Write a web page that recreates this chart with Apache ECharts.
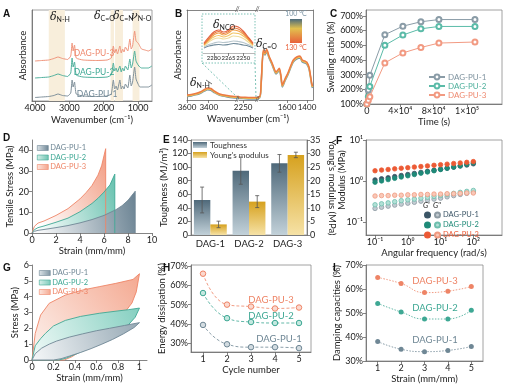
<!DOCTYPE html>
<html><head><meta charset="utf-8">
<script src="https://cdn.jsdelivr.net/npm/echarts@6.0.0/dist/echarts.min.js"></script>
<style>html,body{margin:0;padding:0;background:#fff}#c{width:509px;height:387px}</style>
</head><body><div id="c"></div>
<script>
// ---------- A: FTIR ----------
const wnA = [4000,3800,3600,3450,3330,3200,3050,2960,2920,2890,2850,2800,2600,2200,1900,1780,1720,1680,1640,1600,1530,1490,1450,1410,1370,1300,1240,1200,1160,1100,1060,1000,950,900,800,700,600];
const ftirPU3 = [40,40.5,41,42.5,44,42.5,41.5,45,58,50,56,43,41,40.5,41,43,55,48,52,47,55,48,52,49,54,50,62,52,55,70,60,58,55,52,51,50,52];
const ftirPU2 = [23,23.5,24,25.5,27,25.5,24.5,28,43,34,39,26,24,23.5,24,26,38,30,33,29,35,29,33,30,35,31,42,33,37,50,40,36,34,33,33,33,35];
const ftirPU1 = [3.5,4,4.5,5.5,7,5.5,5,8,21,14,19,7,5,4.5,5,7,21,12,15,11,21,12,15,12,17,13,26,15,19,34,22,17,14,14,14,14,16];
const ftirBands = [[3600,3130],[1800,1700],[1670,1440],[1160,960]];
const ftirTicks = [4000,3000,2000,1000];
// ---------- B: variable-temperature FTIR ----------
const wnB = [3600,3560,3520,3480,3440,3410,3380,3350,3300,3230,3150, 2290,2250,2200, 1877,1860,1837,1820,1803,1780,1753,1730,1710,1677,1660,1647,1620,1587,1560,1537,1503,1470,1447,1420,1403,1380,1353,1345];
const absB130 = [5,5.5,6.5,8,10.5,12,11.5,9,6,4.5,3.5, 3,2.8,2.5, 3.3,15,50,47,50.7,44,38,32,28,31.7,24,15,21,28,35,40,43,44,40,39,38,33,17,14];
const absB115 = [4.3,4.8,5.8,7.2,9.6,11.1,10.6,8.2,5.3,3.8,2.8, 2.3,2.1,1.8, 2.6,14,48.8,46,49.5,43,37,31,27,30.6,23,14,20,27,34,39,42,43,39,38,37,32,16,13];
const absB100 = [3.6,4.1,5.1,6.5,8.8,10.2,9.8,7.5,4.6,3.1,2.1, 1.6,1.4,1.1, 1.9,13,47.5,45,48.3,42,36,30,26,29.5,22,13,19,26,33,38,41,42,38,37,36,31,15,12];
const wnInset = [2290,2285,2280,2275,2270,2265,2260,2255,2250,2245,2240];
const inset130 = [10,16,21,23,21,23,27,26,22,16,10];
const inset125 = [9,14.5,19.5,21.5,19.5,21.5,25,24,20.5,15,9];
const inset120 = [8.5,13.5,18,20,18,20,23,22,19,14,8.5];
const inset115 = [8,12.5,16,17.5,16,17.5,20,19.5,17,13,8];
const inset110 = [7,11,14,15,14,15,17,16.5,14.5,11,7];
const inset105 = [6,8.5,10,11,10.5,11,12,11.5,10.5,8.5,6];
const inset100 = [5,7,8,8.5,8,8.5,9.5,9,8,7,5];
const insetTemps = ['100','105','110','115','120','125','130'];
// ---------- C: swelling ----------
const swellTime = [0,1800,3600,21600,43200,64800,86400,129600];
const swellPU1 = [100,195,295,572,630,660,675,675];
const swellPU2 = [100,150,220,500,570,612,628,628];
const swellPU3 = [100,125,150,380,448,485,515,522];
const swellTicks = [0,40000,80000,120000];
const swellTickText = ['0','4×10⁴','8×10⁴','1×10⁵'];
// ---------- D: tensile ----------
const strainD3 = [0,0.2,0.5,1,2,3,4,4.5,5,5.5,5.8,6.14,6.14];
const stressD3 = [0,3.2,4.8,5.8,8.5,11.8,16.5,19.5,23,28,32.5,40.8,0];
const strainD2 = [0,0.2,0.5,1,2,3,4,5,5.5,6,6.5,6.9,6.9];
const stressD2 = [0,1.6,2.6,3.4,5.2,7.2,10.3,14.3,16.8,19.8,23.3,28.5,0];
const strainD1 = [0,0.2,0.5,1,2,3,4,5,6,7,7.5,8,8.6,8.6];
const stressD1 = [0,0.8,1.3,1.7,2.6,3.6,4.9,6.5,8.5,11.3,13.2,15.8,20.2,0];
// ---------- E: toughness / modulus ----------
const toughCats = ['DAG-1','DAG-2','DAG-3'];
const toughness = [51.6,94.8,105.6];
const toughErr = [19,20,13];
const youngs = [3.9,12.3,29.5];
const youngErr = [1.2,2.2,1.0];
// ---------- F: rheology ----------
const freq = [0.1,0.158,0.251,0.398,0.631,1,1.585,2.512,3.981,6.31,10,15.85,25.12,39.81,63.1,100];
const gp1 = [1.08,1.15,1.22,1.30,1.38,1.46,1.55,1.64,1.74,1.85,1.96,2.08,2.20,2.34,2.48,2.65];
const gp2 = [0.95,1.02,1.10,1.18,1.27,1.36,1.46,1.57,1.68,1.80,1.93,2.07,2.22,2.38,2.58,2.80];
const gp3 = [1.80,1.87,1.93,2.00,2.07,2.14,2.21,2.28,2.36,2.44,2.52,2.60,2.69,2.78,2.88,3.00];
const gpp1 = [0.22,0.235,0.25,0.265,0.28,0.295,0.31,0.33,0.35,0.37,0.39,0.42,0.45,0.48,0.51,0.55];
const gpp2 = [0.27,0.285,0.30,0.32,0.34,0.355,0.37,0.39,0.41,0.43,0.455,0.48,0.51,0.54,0.57,0.60];
const gpp3 = [0.44,0.45,0.45,0.46,0.46,0.47,0.47,0.48,0.48,0.49,0.49,0.50,0.50,0.51,0.52,0.52];
const freqTicks = [0.1, 1, 10, 100];
const modTicks = [0.1, 1, 10];
// ---------- G: cyclic loops ----------
const loadStrainG3 = [0,0.03,0.08,0.16,0.31,0.47,0.625,0.78,0.94,1.0];
const loadStressG3 = [0,1.68,2.84,3.58,4.1,4.42,4.63,4.84,5.09,5.45];
const unloadStrainG3 = [1.0,0.97,0.93,0.85,0.75,0.65,0.55,0.45,0.37,0.3];
const unloadStressG3 = [5.45,4.3,3.6,2.9,2.2,1.6,1.05,0.55,0.2,0];
const loadStrainG2 = [0,0.03,0.08,0.125,0.2,0.31,0.45,0.625,0.8,0.9,1.0];
const loadStressG2 = [0,0.9,1.35,1.68,2.15,2.5,2.75,2.95,3.1,3.18,3.28];
const unloadStrainG2 = [1.0,0.96,0.9,0.8,0.7,0.6,0.5,0.4,0.32,0.25];
const unloadStressG2 = [3.28,2.7,2.25,1.75,1.35,1.0,0.65,0.35,0.12,0];
const loadStrainG1 = [0,0.03,0.09,0.16,0.23,0.35,0.47,0.6,0.72,0.86,1.0];
const loadStressG1 = [0,0.4,0.75,1.0,1.2,1.45,1.65,1.85,2.0,2.18,2.36];
const unloadStrainG1 = [1.0,0.95,0.85,0.75,0.65,0.55,0.45,0.35,0.27,0.2];
const unloadStressG1 = [2.36,2.05,1.65,1.3,1.0,0.72,0.47,0.25,0.08,0];
// ---------- H: energy dissipation ----------
const cycles = [1,2,3,4,5];
const dissPU3 = [66,50,49,48,48.5];
const dissPU2 = [56,43,41,40.5,40.5];
const dissPU1 = [39.5,29.5,28,28,27.5];
// ---------- I: damping ----------
const dampStrain = [1,2,3,4,5];
const dampPU3 = [64.8,62.3,58.5,59.1,61.0];
const dampPU2 = [54.0,50.4,47.5,47.5,51.1];
const dampPU1 = [38.1,34.9,33.9,34.4,36.0];

const zip = (xs, ys) => xs.map((x, i) => [x, ys[i]]);
const FF = 'Lato, "Open Sans", sans-serif';
const C1 = '#6f8795', C2 = '#3ea894', C3 = '#ee8466';
const plain = v => String(v);
const LBL = {fontSize: 9, color: '#222', margin: 3, fontFamily: FF, formatter: plain};
const NM = {fontSize: 9.5, color: '#222', fontFamily: FF};
const AL = {show: true, onZero: false, lineStyle: {color: '#666', width: 0.8}};
const TK = {show: true, length: 3, lineStyle: {color: '#666', width: 0.8}};
const BOX = {show: true, borderColor: '#8a8a8a', borderWidth: 0.8, backgroundColor: 'transparent'};
const NOSPLIT = {show: false};
const grad = (x, y, x2, y2, a, b) => new echarts.graphic.LinearGradient(x, y, x2, y2, [{offset: 0, color: a}, {offset: 1, color: b}]);
const supMap = {'-1': '⁻¹', '0': '⁰', '1': '¹', '2': '²'};
const logFmt = v => {
  const n = Number(v), l = Math.log10(n), r = Math.round(l);
  return Math.abs(l - r) < 1e-6 ? '10' + (supMap[String(r)] || '') : '';
};

function vx(grid, o) {
  return Object.assign({type: 'value', gridIndex: grid, axisLine: AL, axisTick: TK, axisLabel: LBL, splitLine: NOSPLIT, nameLocation: 'middle', nameTextStyle: NM}, o);
}
function cust(vals, extra) {
  return {axisLabel: Object.assign({}, LBL, {customValues: vals}, extra || {}), axisTick: Object.assign({}, TK, {customValues: vals})};
}

const grids = [
  Object.assign({left: 32, top: 10, width: 120, height: 91}, BOX),   // 0 A
  {left: 187, top: 10, width: 50, height: 90},                        // 1 B seg1
  {left: 239, top: 10, width: 18, height: 90},                        // 2 B seg2
  {left: 259, top: 10, width: 54, height: 90},                        // 3 B seg3
  {left: 203, top: 18, width: 52, height: 35},                        // 4 B inset
  Object.assign({left: 366, top: 10, width: 136, height: 94}, BOX),  // 5 C
  {left: 32, top: 140, width: 120, height: 93},                       // 6 D
  Object.assign({left: 191, top: 140, width: 116, height: 95}, BOX), // 7 E
  Object.assign({left: 366, top: 140, width: 136, height: 95}, BOX), // 8 F
  {left: 32, top: 265, width: 115, height: 95},                       // 9 G
  Object.assign({left: 191, top: 265, width: 120, height: 87}, BOX), // 10 H
  Object.assign({left: 366, top: 265, width: 117, height: 96}, BOX)  // 11 I
];

const BL = {fontSize: 8};
const xAxes = [
  vx(0, Object.assign({min: 595, max: 4087, inverse: true, name: 'Wavenumber (cm⁻¹)', nameGap: 14}, cust(ftirTicks))),
  vx(1, Object.assign({min: 3140, max: 3600, inverse: true}, cust([3600, 3400], BL))),
  vx(2, Object.assign({min: 2150, max: 2280, inverse: true, name: 'Wavenumber (cm⁻¹)', nameGap: 14}, cust([2250], BL))),
  vx(3, Object.assign({min: 1340, max: 1880, inverse: true}, cust([1600, 1400], BL))),
  vx(1, {min: 3140, max: 3600, inverse: true, position: 'top', axisLabel: {show: false}, axisTick: {show: false}}),
  vx(2, {min: 2150, max: 2280, inverse: true, position: 'top', axisLabel: {show: false}, axisTick: {show: false}}),
  vx(3, {min: 1340, max: 1880, inverse: true, position: 'top', axisLabel: {show: false}, axisTick: {show: false}}),
  vx(4, Object.assign({min: 2238, max: 2291, inverse: true, axisLine: {show: true, lineStyle: {color: '#999', width: 0.7}}},
     cust([2280, 2265, 2250], {fontSize: 6, margin: 2}))),
  vx(5, Object.assign({min: -1000, max: 162000, name: 'Time (s)', nameGap: 12},
     cust(swellTicks, {formatter: v => swellTickText[swellTicks.indexOf(v)]}))),
  vx(6, Object.assign({min: 0, max: 10, name: 'Strain (mm/mm)', nameGap: 11}, cust([0, 2, 4, 6, 8, 10]))),
  {type: 'category', gridIndex: 7, data: toughCats, axisLine: AL, axisTick: {show: false}, axisLabel: {fontSize: 9.5, color: '#222', fontFamily: FF, margin: 4}},
  vx(8, Object.assign({type: 'log', min: 0.053, max: 750, name: 'Angular frequency (rad/s)', nameGap: 11},
     cust(freqTicks, {formatter: logFmt}))),
  vx(9, Object.assign({min: 0, max: 1.07, name: 'Strain (mm/mm)', nameGap: 13}, cust([0, 0.2, 0.4, 0.6, 0.8, 1]))),
  vx(10, Object.assign({min: 0.5, max: 5.5, name: 'Cycle number', nameGap: 12}, cust(cycles))),
  vx(11, Object.assign({min: 0.5, max: 5.5, name: 'Strain (mm/mm)', nameGap: 13}, cust(dampStrain)))
];

const pct = v => v + '%';
const yAxes = [
  vx(0, {min: 0, max: 91, axisLabel: {show: false}, axisTick: {show: false}, name: 'Absorbance', nameGap: 4}),
  vx(1, {min: 0, max: 90, axisLabel: {show: false}, axisTick: {show: false}, name: 'Absorbance', nameGap: 4}),
  vx(2, {min: 0, max: 90, show: false}),
  vx(3, {min: 0, max: 90, position: 'right', axisLabel: {show: false}, axisTick: {show: false}}),
  vx(4, {min: 0, max: 35, show: false}),
  vx(5, Object.assign({min: 100, max: 740, name: 'Swelling ratio (%)', nameGap: 25}, cust([100, 200, 300, 400, 500, 600, 700], {formatter: pct}))),
  vx(6, Object.assign({min: 0, max: 45, name: 'Tensile Stress (MPa)', nameGap: 14}, cust([0, 10, 20, 30, 40]))),
  vx(7, Object.assign({min: 0, max: 140, name: 'Toughness (MJ/m³)', nameGap: 19}, cust([0, 20, 40, 60, 80, 100, 120, 140]))),
  vx(7, Object.assign({min: 0, max: 35, position: 'right', name: "Young's modulus (MPa)", nameGap: 20, nameRotate: -90}, cust([0, 5, 10, 15, 20, 25, 30, 35]))),
  vx(8, {type: 'log', min: 0.05, max: 10,
     axisTick: Object.assign({}, TK, {customValues: modTicks}),
     axisLabel: Object.assign({}, LBL, {customValues: modTicks, formatter: logFmt, showMinLabel: true, showMaxLabel: true, hideOverlap: false})}),
  vx(9, Object.assign({min: 0, max: 6, name: 'Stress (MPa)', nameGap: 10}, cust([0, 1, 2, 3, 4, 5, 6]))),
  vx(10, Object.assign({min: 25.5, max: 70.5, name: 'Energy dissipation (%)', nameGap: 21}, cust([30, 40, 50, 60, 70], {formatter: pct}))),
  vx(11, Object.assign({min: 30, max: 70, name: 'Damping capacities (%)', nameGap: 24}, cust([30, 40, 50, 60, 70], {formatter: pct})))
];

const series = [];
// A
series.push({type: 'line', xAxisIndex: 0, yAxisIndex: 0, data: [], z: 1, silent: true,
  markArea: {silent: true, itemStyle: {color: '#f8eedb'}, data: ftirBands.map(b => [{xAxis: b[0]}, {xAxis: b[1]}])}});
[[ftirPU1, '#7f909a'], [ftirPU2, '#4fb09c'], [ftirPU3, '#f0957c']].forEach(s => {
  series.push({type: 'line', xAxisIndex: 0, yAxisIndex: 0, data: zip(wnA, s[0]), showSymbol: false, smooth: 0.15,
    lineStyle: {color: s[1], width: 1}, z: 3});
});
// B main
[[absB100, '#7895a5'], [absB115, '#f1c04f'], [absB130, '#ec7b45']].forEach(s => {
  [1, 2, 3].forEach(k => series.push({type: 'line', xAxisIndex: k, yAxisIndex: k, data: zip(wnB, s[0]), showSymbol: false,
    smooth: 0.25, lineStyle: {color: s[1], width: 1.5}}));
});
// B inset
const insetCols = ['#6f8a9a', '#b8c6cc', '#f0dc9c', '#f3c463', '#f0a048', '#ea7a3e', '#e2603c'];
[inset100, inset105, inset110, inset115, inset120, inset125, inset130].forEach((arr, i) => {
  series.push({type: 'line', name: insetTemps[i] + ' °C', xAxisIndex: 7, yAxisIndex: 4, data: zip(wnInset, arr), showSymbol: false,
    smooth: 0.4, lineStyle: {color: insetCols[i], width: 1.1}});
});
// C
[['C DAG-PU-1', swellPU1, '#8a9ca7'], ['C DAG-PU-2', swellPU2, '#5bbba8'], ['C DAG-PU-3', swellPU3, '#f29a82']].forEach(s => {
  series.push({type: 'line', name: s[0], xAxisIndex: 8, yAxisIndex: 5, data: zip(swellTime, s[1]), symbol: 'emptyCircle', symbolSize: 5,
    itemStyle: {color: s[2], borderWidth: 1}, lineStyle: {color: s[2], width: 1}});
});
// D
const dFill = {
  'D DAG-PU-3': ['#f3a38b', C3, strainD3, stressD3],
  'D DAG-PU-2': ['#6cc3b1', C2, strainD2, stressD2],
  'D DAG-PU-1': ['#6c8494', C1, strainD1, stressD1]
};
Object.keys(dFill).forEach(n => {
  const f = dFill[n];
  series.push({type: 'line', name: n, xAxisIndex: 9, yAxisIndex: 6, data: zip(f[2], f[3]), showSymbol: false,
    lineStyle: {color: f[1], width: 0.9}, itemStyle: {color: f[1]},
    areaStyle: {opacity: 1, color: grad(0, 0.7, 1, 0.2, '#ffffff', f[0])}});
});
// E
series.push({type: 'bar', name: 'Toughness', xAxisIndex: 10, yAxisIndex: 7, data: toughness, barGap: '0%', barCategoryGap: '15%',
  itemStyle: {color: grad(0, 0, 0, 1, '#4f697a', '#c2d1d9')}});
series.push({type: 'bar', name: "Young's modulus", xAxisIndex: 10, yAxisIndex: 8, data: youngs, barGap: '0%', barCategoryGap: '15%',
  itemStyle: {color: grad(0, 0, 0, 1, '#d6a11e', '#f6e2a6')}});
function errItem(sign) {
  return function (params, api) {
    const c = api.value(0), v = api.value(1), e = api.value(2);
    const hi = api.coord([c, v + e]), lo = api.coord([c, v - e]);
    const w = api.size([1, 0])[0];
    const x = hi[0] + sign * w * 0.2125, cap = 2;
    const st = {stroke: '#555', lineWidth: 0.8};
    return {type: 'group', children: [
      {type: 'line', shape: {x1: x, y1: hi[1], x2: x, y2: lo[1]}, style: st},
      {type: 'line', shape: {x1: x - cap, y1: hi[1], x2: x + cap, y2: hi[1]}, style: st},
      {type: 'line', shape: {x1: x - cap, y1: lo[1], x2: x + cap, y2: lo[1]}, style: st}]};
  };
}
series.push({type: 'custom', xAxisIndex: 10, yAxisIndex: 7, data: toughness.map((v, i) => [i, v, toughErr[i]]), encode: {x: 0, y: 1}, renderItem: errItem(-1), z: 5});
series.push({type: 'custom', xAxisIndex: 10, yAxisIndex: 8, data: youngs.map((v, i) => [i, v, youngErr[i]]), encode: {x: 0, y: 1}, renderItem: errItem(1), z: 5});
// F
[['F1 DAG-PU-1', gp1, '#3b5566', '#3b5566'], ['F1 DAG-PU-2', gp2, '#1f8a78', '#1f8a78'], ['F1 DAG-PU-3', gp3, '#ec5a35', '#ec5a35'],
 ['F2 DAG-PU-1', gpp1, '#c3ccd2', '#8e9ba3'], ['F2 DAG-PU-2', gpp2, '#b2e0d6', '#6fbfae'], ['F2 DAG-PU-3', gpp3, '#f9c8b8', '#f09a80']].forEach(s => {
  series.push({type: 'scatter', name: s[0], xAxisIndex: 11, yAxisIndex: 9, data: zip(freq, s[1]), symbolSize: 4.5,
    itemStyle: {color: s[2], borderColor: s[3], borderWidth: 0.8, opacity: 1}});
});
// G
function loopItem(pts, c0, c1, stroke) {
  return function (params, api) {
    if (params.dataIndex !== 0) return null;
    return {type: 'polygon', shape: {points: pts.map(p => api.coord(p))},
      style: {fill: grad(0, 1, 1, 0, c0, c1), stroke: stroke, lineWidth: 0.9}};
  };
}
[['G DAG-PU-3', loadStrainG3, loadStressG3, unloadStrainG3, unloadStressG3, '#fdf3ef', '#f4a890', C3],
 ['G DAG-PU-2', loadStrainG2, loadStressG2, unloadStrainG2, unloadStressG2, '#f1faf8', '#84cfc0', C2],
 ['G DAG-PU-1', loadStrainG1, loadStressG1, unloadStrainG1, unloadStressG1, '#f6f8f9', '#95a8b4', C1]].forEach(s => {
  const pts = zip(s[1], s[2]).concat(zip(s[3], s[4]));
  series.push({type: 'custom', name: s[0], xAxisIndex: 12, yAxisIndex: 10, data: pts, itemStyle: {color: s[7]}, renderItem: loopItem(pts, s[5], s[6], s[7])});
});
// H
[[dissPU3, C3, '#fbd9cf'], [dissPU2, C2, '#c4e8e0'], [dissPU1, C1, '#d3dce1']].forEach(s => {
  series.push({type: 'line', xAxisIndex: 13, yAxisIndex: 11, data: zip(cycles, s[0]), smooth: 0.5, symbol: 'circle', symbolSize: 5.5,
    itemStyle: {color: s[2], borderColor: s[1], borderWidth: 1}, lineStyle: {color: s[1], width: 1, type: [3, 2], opacity: 0.8}});
});
// I
[[dampPU3, C3], [dampPU2, C2], [dampPU1, C1]].forEach(s => {
  series.push({type: 'line', xAxisIndex: 14, yAxisIndex: 12, data: zip(dampStrain, s[0]), smooth: 0.5, symbol: 'circle', symbolSize: 5,
    itemStyle: {color: s[1]}, lineStyle: {color: s[1], width: 1, type: [1.5, 1.5], opacity: 0.8}});
});

const strip = n => n.slice(n.indexOf(' ') + 1);
const LEG = {selectedMode: false, padding: 0, orient: 'vertical'};
const legends = [
  Object.assign({left: 428, top: 73, itemGap: 1, itemWidth: 16, itemHeight: 6, formatter: strip,
    textStyle: {fontSize: 8, fontFamily: FF, padding: [0, 0, 0, -2]},
    data: [{name: 'C DAG-PU-1', textStyle: {color: '#7f939f'}}, {name: 'C DAG-PU-2', textStyle: {color: '#4fb09c'}}, {name: 'C DAG-PU-3', textStyle: {color: '#ee8a70'}}]}, LEG),
  Object.assign({left: 37, top: 144, itemGap: 1.5, itemWidth: 11, itemHeight: 5, formatter: strip,
    textStyle: {fontSize: 7.5, fontFamily: FF, padding: [0, 0, 0, -3]},
    data: [{name: 'D DAG-PU-1', icon: 'rect', itemStyle: {color: grad(0, 0, 1, 0, '#dde4e8', '#6c8494'), borderColor: C1, borderWidth: 0.6}, textStyle: {color: C1}},
           {name: 'D DAG-PU-2', icon: 'rect', itemStyle: {color: grad(0, 0, 1, 0, '#d8f0ea', '#6cc3b1'), borderColor: C2, borderWidth: 0.6}, textStyle: {color: C2}},
           {name: 'D DAG-PU-3', icon: 'rect', itemStyle: {color: grad(0, 0, 1, 0, '#fde6de', '#f3a38b'), borderColor: C3, borderWidth: 0.6}, textStyle: {color: C3}}]}, LEG),
  Object.assign({left: 193, top: 141, itemGap: 2, itemWidth: 14, itemHeight: 6,
    textStyle: {fontSize: 8, fontFamily: FF, color: '#333', padding: [0, 0, 0, -2]},
    data: [{name: 'Toughness', icon: 'rect'}, {name: "Young's modulus", icon: 'rect'}]}, LEG),
  Object.assign({left: 424, top: 211, itemGap: 2, itemWidth: 5, itemHeight: 5, formatter: () => ' ',
    textStyle: {fontSize: 7.5, fontFamily: FF},
    data: ['F1 DAG-PU-1', 'F1 DAG-PU-2', 'F1 DAG-PU-3']}, LEG),
  Object.assign({left: 434, top: 211, itemGap: 2, itemWidth: 5, itemHeight: 5, formatter: strip,
    textStyle: {fontSize: 7.5, fontFamily: FF, padding: [0, 0, 0, -2]},
    data: [{name: 'F2 DAG-PU-1', textStyle: {color: '#3b5566'}}, {name: 'F2 DAG-PU-2', textStyle: {color: '#1f8a78'}}, {name: 'F2 DAG-PU-3', textStyle: {color: '#ec5a35'}}]}, LEG),
  Object.assign({left: 39, top: 269, itemGap: 1.5, itemWidth: 11, itemHeight: 5, formatter: strip,
    textStyle: {fontSize: 7.5, fontFamily: FF, padding: [0, 0, 0, -3]},
    data: [{name: 'G DAG-PU-1', icon: 'rect', itemStyle: {color: grad(0, 0, 1, 0, '#dde4e8', '#7f95a3'), borderColor: C1, borderWidth: 0.6}, textStyle: {color: C1}},
           {name: 'G DAG-PU-2', icon: 'rect', itemStyle: {color: grad(0, 0, 1, 0, '#d8f0ea', '#7ccbbb'), borderColor: C2, borderWidth: 0.6}, textStyle: {color: C2}},
           {name: 'G DAG-PU-3', icon: 'rect', itemStyle: {color: grad(0, 0, 1, 0, '#fde6de', '#f4a890'), borderColor: C3, borderWidth: 0.6}, textStyle: {color: C3}}]}, LEG)
];

const T = (x, y, text, o) => ({type: 'text', x, y, z: 100, silent: true, style: Object.assign({text, fill: '#222', font: '9px ' + FF}, o || {})});
const letter = (x, y, t) => T(x, y, t, {font: 'bold 10px "Liberation Sans", Arial, sans-serif', fill: '#111'});
const richD = {d: {fontSize: 11, fontStyle: 'italic', fontFamily: 'DejaVu Serif, serif', fill: '#222'}, s: {fontSize: 7, fontFamily: FF, fill: '#222', padding: [5, 0, 0, 0]}};
const richT = (x, y, t) => ({type: 'text', x, y, z: 100, silent: true, style: {text: t, rich: richD, fill: '#222'}});
const L = (x1, y1, x2, y2, st) => ({type: 'line', z: 100, silent: true, shape: {x1, y1, x2, y2}, style: st});
const CA = {align: 'center', verticalAlign: 'middle'};
const graphic = [
  letter(3, 9, 'A'), letter(175, 9, 'B'), letter(330, 9, 'C'),
  letter(3, 133, 'D'), letter(163, 135, 'E'), letter(336, 136, 'F'),
  letter(3, 263, 'G'), letter(163, 263, 'H'), letter(333, 263, 'I'),
  richT(50, 11, '{d|δ}{s|N-H}'), richT(94, 10, '{d|δ}{s|C=O}'), richT(113, 10, '{d|δ}{s|C=N}'), richT(131, 10, '{d|ν}{s|N-O}'),
  T(94, 53, 'DAG-PU-3', Object.assign({fill: '#ee8a70', font: '8.5px ' + FF}, CA)),
  T(94, 72, 'DAG-PU-2', Object.assign({fill: '#3ea894', font: '8.5px ' + FF}, CA)),
  T(97, 94, 'DAG-PU-1', Object.assign({fill: '#6f8795', font: '8.5px ' + FF}, CA)),
  // B annotations
  {type: 'rect', z: 100, silent: true, shape: {x: 202, y: 14, width: 53, height: 49}, style: {fill: 'none', stroke: '#5bb3a3', lineWidth: 0.8, lineDash: [1.5, 1.5]}},
  L(202, 63, 238, 98, {stroke: '#5bb3a3', lineWidth: 0.8, lineDash: [2, 2]}),
  L(255, 63, 256, 98, {stroke: '#5bb3a3', lineWidth: 0.8, lineDash: [2, 2]}),
  richT(213, 19, '{d|δ}{s|NCO}'),
  richT(190, 77, '{d|δ}{s|N-H}'),
  L(206, 80, 212, 84, {stroke: '#333', lineWidth: 0.7}),
  richT(256, 38, '{d|δ}{s|C=O}'),
  L(263, 47, 265, 51, {stroke: '#333', lineWidth: 0.7}),
  T(235, 6, '//', {font: '7px ' + FF, fill: '#555'}), T(255, 6, '//', {font: '7px ' + FF, fill: '#555'}),
  T(235, 96, '//', {font: '7px ' + FF, fill: '#555'}), T(255, 96, '//', {font: '7px ' + FF, fill: '#555'}),
  {type: 'rect', z: 100, silent: true, shape: {x: 290, y: 19, width: 12, height: 24},
    style: {fill: new echarts.graphic.LinearGradient(0, 0, 0, 1, [{offset: 0, color: '#4a6a7c'}, {offset: 0.4, color: '#e2c04e'}, {offset: 1, color: '#e8603a'}])}},
  T(296, 14, '100 °C', Object.assign({fill: '#7a93a3', font: '7px ' + FF}, CA)),
  T(296, 48, '130 °C', Object.assign({fill: '#e8603a', font: '7px ' + FF}, CA)),
  // F y-axis title
  {type: 'text', x: 342, y: 180, rotation: Math.PI / 2, z: 100, silent: true,
    style: {text: 'Modulus (MPa)', fill: '#222', font: '9px ' + FF, align: 'center', verticalAlign: 'middle'}},
  // F legend header
  T(423, 202, "G'", {font: 'italic 7.5px ' + FF, fill: '#222'}),
  T(433, 202, "G''", {font: 'italic 7.5px ' + FF, fill: '#222'}),
  // H labels
  T(271, 300, 'DAG-PU-3', Object.assign({fill: C3, font: '9.5px ' + FF}, CA)),
  T(271, 316, 'DAG-PU-2', Object.assign({fill: C2, font: '9.5px ' + FF}, CA)),
  T(279, 339, 'DAG-PU-1', Object.assign({fill: C1, font: '9.5px ' + FF}, CA)),
  // I labels
  T(435, 281, 'DAG-PU-3', Object.assign({fill: C3, font: '9.5px ' + FF}, CA)),
  T(435, 308, 'DAG-PU-2', Object.assign({fill: C2, font: '9.5px ' + FF}, CA)),
  T(435, 340, 'DAG-PU-1', Object.assign({fill: C1, font: '9.5px ' + FF}, CA))
];

const chart = echarts.init(document.getElementById('c'), null, {renderer: 'canvas'});
chart.setOption({
  animation: false,
  backgroundColor: '#fff',
  textStyle: {fontFamily: FF},
  grid: grids, xAxis: xAxes, yAxis: yAxes, series, legend: legends, graphic
});
</script></body></html>
